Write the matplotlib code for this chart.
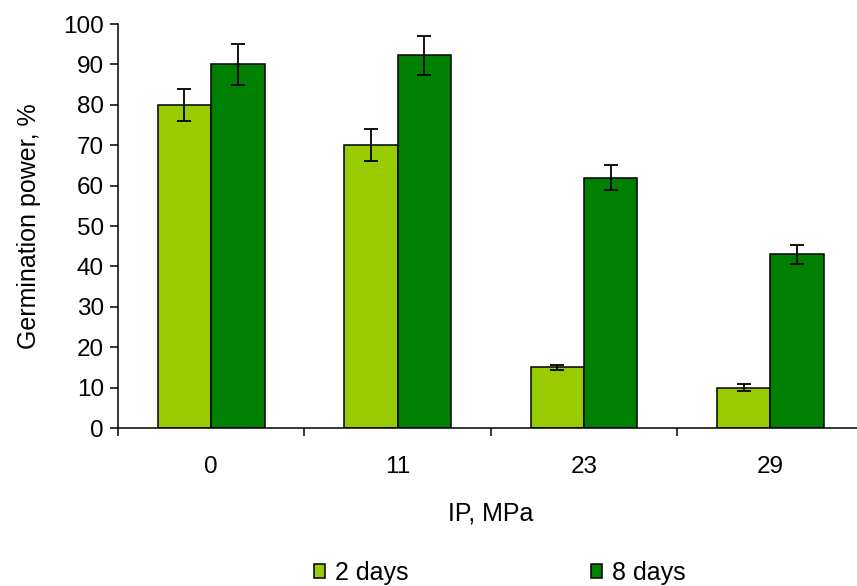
import matplotlib
matplotlib.use('Agg')
import matplotlib.pyplot as plt
import numpy as np

plt.rcParams['font.family'] = ['Liberation Sans', 'DejaVu Sans']

# data
pressure = ['0', '11', '23', '29']
days2 = [80, 70, 15, 10]
days2_err = [4, 4, 0.7, 0.8]
days8 = [90, 92.3, 62, 43]
days8_err = [5, 4.8, 3, 2.3]

light = '#99CC00'
dark = '#008000'

fig = plt.figure(figsize=(8.57, 5.86), dpi=100)
ax = fig.add_axes([0.1377, 0.2696, 0.870, 0.6894])

x = np.arange(len(pressure))
w = 0.287
errkw = dict(ecolor='black', elinewidth=1.3, capsize=5, capthick=1.3)
ax.bar(x - w / 2, days2, w, yerr=days2_err, color=light, edgecolor='black',
       linewidth=1.1, label='2 days', error_kw=errkw)
ax.bar(x + w / 2, days8, w, yerr=days8_err, color=dark, edgecolor='black',
       linewidth=1.1, label='8 days', error_kw=errkw)

ax.set_xlim(-0.5, 3.5)
ax.set_ylim(0, 100)
ax.set_yticks(range(0, 101, 10))
ax.set_xticks(x)
ax.set_xticklabels(pressure)
ax.set_xticks(np.arange(-0.5, 3.6, 1), minor=True)
ax.tick_params(axis='x', which='major', length=0, pad=20, labelsize=17.5)
ax.tick_params(axis='x', which='minor', length=6, width=1.1, direction='out')
ax.tick_params(axis='y', length=6, width=1.1, direction='out', labelsize=17.5, pad=4)

for s in ['top', 'right']:
    ax.spines[s].set_visible(False)
ax.spines['left'].set_linewidth(1.1)
ax.spines['bottom'].set_linewidth(1.1)

ax.set_xlabel('IP, MPa', fontsize=18, labelpad=17)
ax.set_ylabel('Germination power, %', fontsize=18, labelpad=16)

fig.legend(loc='center', bbox_to_anchor=(0.583, 0.022), ncol=2, frameon=False,
           fontsize=18, handlelength=0.45, handleheight=0.45, handletextpad=0.4,
           columnspacing=7.3)

fig.savefig('out.png', dpi=100)
